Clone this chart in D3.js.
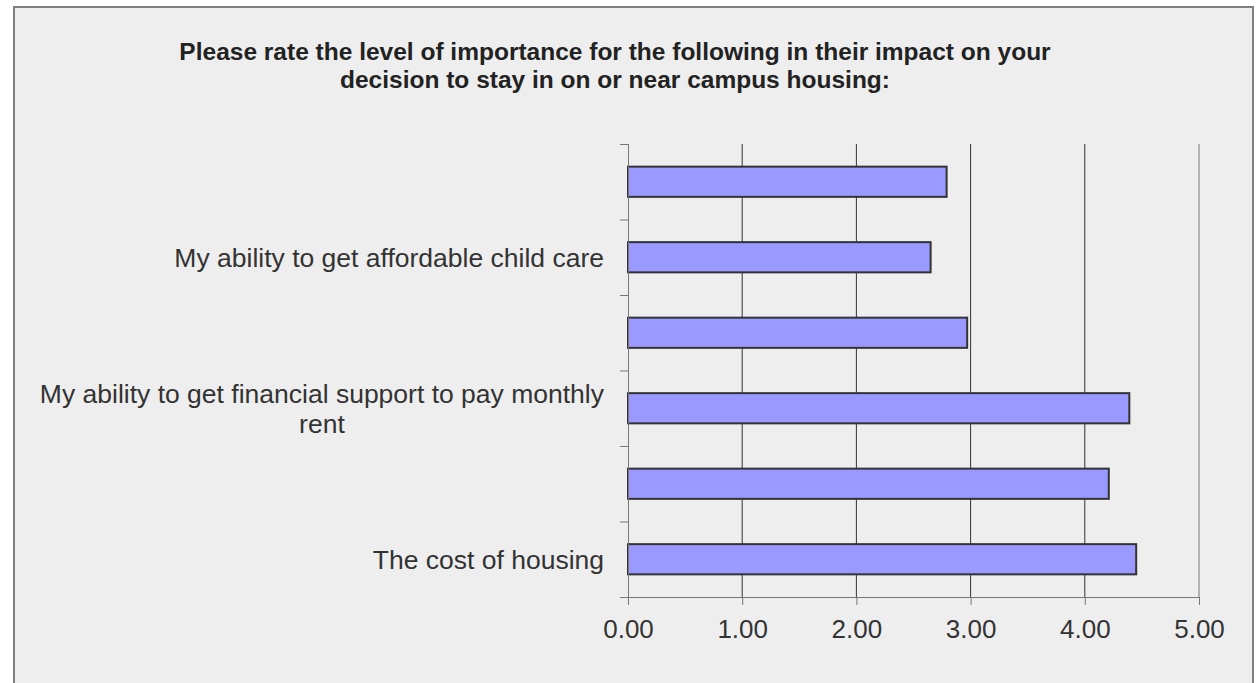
<!DOCTYPE html>
<html>
<head>
<meta charset="utf-8">
<script src="https://cdn.jsdelivr.net/npm/d3@7"></script>
<style>
  html, body { margin: 0; padding: 0; background: #ffffff; }
  svg { display: block; }
</style>
</head>
<body>
<svg id="chart" width="1258" height="683"></svg>
<script>
// ---- data (top to bottom as drawn) ----
const titleLines = [
  "Please rate the level of importance for the following in their impact on your",
  "decision to stay in on or near campus housing:"
];
const categories = [
  "",
  "My ability to get affordable child care",
  "",
  "My ability to get financial support to pay monthly rent",
  "",
  "The cost of housing"
];
const values = [2.79, 2.65, 2.97, 4.39, 4.21, 4.45];
const xTicks = [0, 1, 2, 3, 4, 5];

// ---- layout ----
const plot = { left: 628, right: 1199, top: 144, bottom: 597 };
const svg = d3.select("#chart");
const font = "'Liberation Sans', Arial, sans-serif";

svg.append("rect").attr("x", 14).attr("y", 7).attr("width", 1239).attr("height", 700)
  .attr("fill", "#eeeeee").attr("stroke", "#7f7f7f").attr("stroke-width", 2);

// title
svg.append("text")
  .attr("x", 615).attr("y", 60)
  .attr("text-anchor", "middle")
  .attr("font-family", font).attr("font-weight", "bold").attr("font-size", 24.5)
  .attr("fill", "#222")
  .selectAll("tspan").data(titleLines).join("tspan")
  .attr("x", 615).attr("dy", (d, i) => i === 0 ? 0 : 28)
  .text(d => d);

const x = d3.scaleLinear().domain([0, 5]).range([plot.left, plot.right]);
const y = d3.scaleBand().domain(d3.range(categories.length))
  .range([plot.top, plot.bottom]).paddingInner(0.6).paddingOuter(0.3);
const ySep = d3.scaleLinear().domain([0, categories.length]).range([plot.top, plot.bottom]);

// vertical gridlines
svg.append("g").selectAll("line").data(xTicks.filter(d => d > 0)).join("line")
  .attr("x1", d => x(d)).attr("x2", d => x(d))
  .attr("y1", plot.top).attr("y2", plot.bottom)
  .attr("stroke", d => d === 5 ? "#777" : "#333").attr("stroke-width", 1);

// bars
svg.append("g").selectAll("rect").data(values).join("rect")
  .attr("x", x(0))
  .attr("y", (d, i) => y(i))
  .attr("width", d => x(d) - x(0))
  .attr("height", y.bandwidth())
  .attr("fill", "#9999ff")
  .attr("stroke", "#333333").attr("stroke-width", 2);

// y axis with separator ticks
const yAxis = d3.axisLeft(ySep).tickValues(d3.range(categories.length + 1))
  .tickFormat("").tickSize(8).tickSizeOuter(0);
const gy = svg.append("g").attr("transform", `translate(${plot.left},0)`).call(yAxis);
gy.select(".domain").attr("stroke", "#777").attr("d", `M0.5,${plot.top}V${plot.bottom + 8}`);
gy.selectAll(".tick line").attr("stroke", "#777");

// x axis
const xAxis = d3.axisBottom(x).tickValues(xTicks).tickFormat(d3.format(".2f"))
  .tickSize(8).tickSizeOuter(0).tickPadding(15);
const gx = svg.append("g").attr("transform", `translate(0,${plot.bottom})`).call(xAxis);
gx.select(".domain").attr("stroke", "#777").attr("d", `M${plot.left - 8},0.5H${plot.right}`);
gx.selectAll(".tick line").attr("stroke", "#777");
gx.selectAll(".tick text").attr("font-family", font).attr("font-size", 26).attr("fill", "#333");

// category labels
const labelX = 604;
const wrapWidth = 575;
const lbl = svg.append("g").attr("font-family", font).attr("font-size", 26.5).attr("fill", "#333");
categories.forEach((c, i) => {
  if (!c) return;
  const cy = y(i) + y.bandwidth() / 2;
  const t = lbl.append("text").attr("text-anchor", "end").attr("x", labelX).attr("y", cy).attr("dy", "0.35em").text(c);
  if (t.node().getComputedTextLength() > wrapWidth) {
    const words = c.split(" ");
    const lines = []; let cur = [];
    const probe = lbl.append("text");
    words.forEach(w => {
      probe.text([...cur, w].join(" "));
      if (probe.node().getComputedTextLength() > wrapWidth && cur.length) { lines.push(cur.join(" ")); cur = [w]; }
      else cur.push(w);
    });
    lines.push(cur.join(" "));
    probe.text(lines[0]);
    const w0 = probe.node().getComputedTextLength();
    probe.remove();
    t.text(null).attr("text-anchor", "middle");
    const lh = 30;
    lines.forEach((ln, k) => {
      t.append("tspan").attr("x", labelX - w0 / 2)
        .attr("y", cy + (k - (lines.length - 1) / 2) * lh).attr("dy", "0.35em").text(ln);
    });
  }
});
</script>
</body>
</html>
